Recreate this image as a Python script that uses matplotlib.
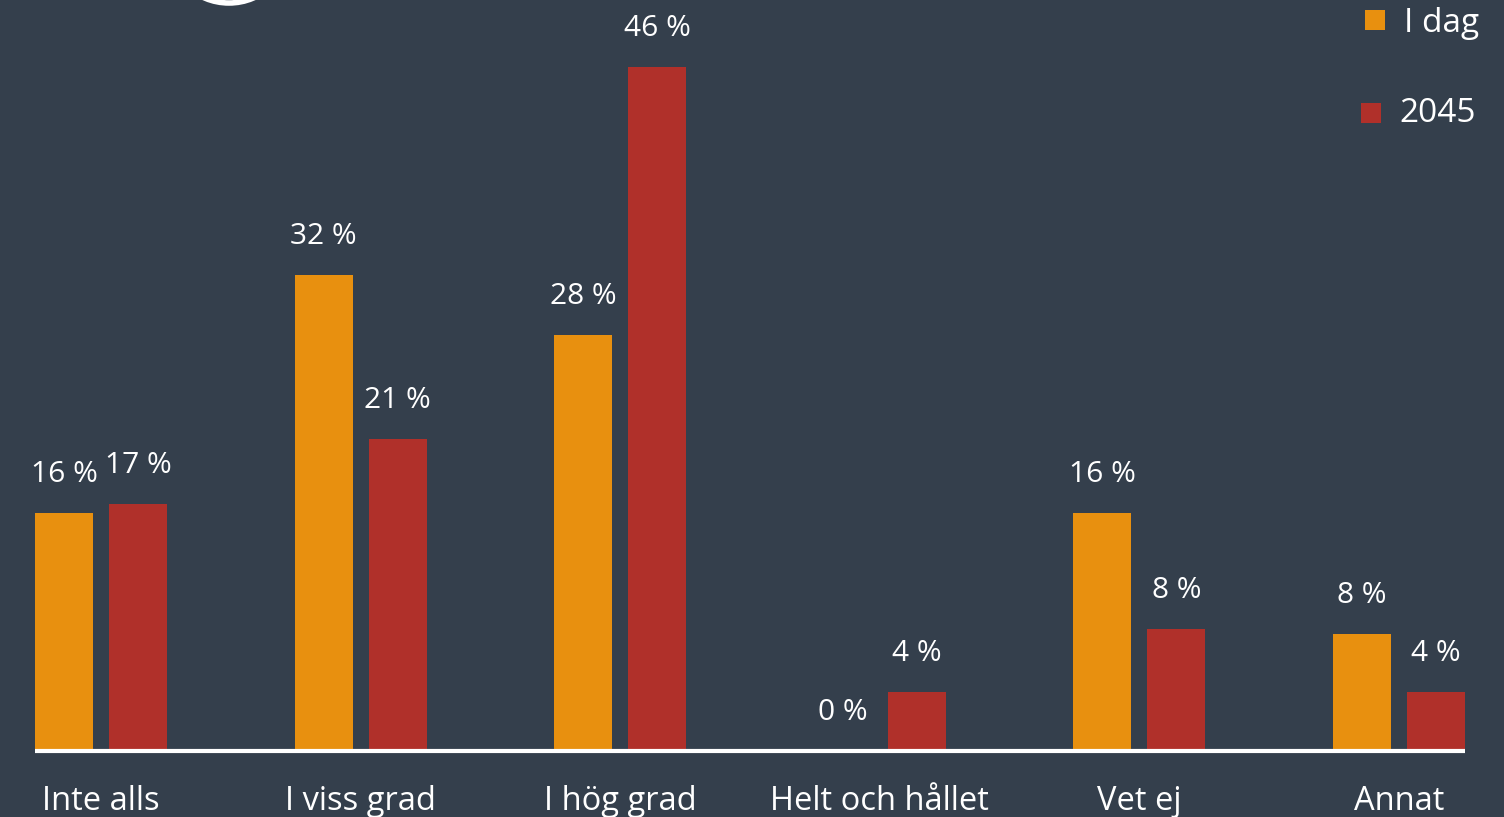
import matplotlib
matplotlib.use("Agg")
import matplotlib.pyplot as plt
from matplotlib.patches import Rectangle, Ellipse
import numpy as np

categories = ["Inte alls", "I viss grad", "I hög grad", "Helt och hållet", "Vet ej", "Annat"]
series_names = ["I dag", "2045"]
idag = [16, 32, 28, 0, 16, 7.9]
y2045 = [16.6, 21, 46, 4, 8.2, 4]

BG = "#343F4C"
ORANGE = "#E8900F"
RED = "#B0302A"
FONT = ["Open Sans", "DejaVu Sans"]

W, H = 1504, 817
fig = plt.figure(figsize=(W / 100, H / 100), dpi=100, facecolor=BG)

# axes geometry in pixels
base_px = 751           # baseline from top
px_per_pct = 14.87
group_px = 259.6
first_center = 101
ax = fig.add_axes([0, (H - base_px) / H, 1, base_px / H])
ax.set_facecolor(BG)
ax.set_xlim(-first_center / group_px, (W - first_center) / group_px)
ax.set_ylim(0, base_px / px_per_pct)
ax.axis("off")

x = np.arange(len(categories))
bw = 58 / group_px
off = 37 / group_px
ax.bar(x - off, idag, width=bw, color=ORANGE, zorder=2)
ax.bar(x + off, y2045, width=bw, color=RED, zorder=2)

lab_off = 31 / px_per_pct
for xs, vals in ((x - off, idag), (x + off, y2045)):
    for xi, v in zip(xs, vals):
        ax.text(xi, v + lab_off, f"{v:.0f} %", ha="center", va="baseline",
                color="white", fontsize=21.5, family=FONT)

ax.hlines(0, (35 - first_center) / group_px, (1465 - first_center) / group_px,
          color="white", linewidth=3, zorder=3, clip_on=False)

for xi, c in zip(x, categories):
    ax.text(xi, -(810 - base_px) / px_per_pct, c, ha="center", va="baseline",
            color="white", fontsize=23.5, family=FONT, clip_on=False)

# legend (manual)
def fx(px):
    return px / W

def fy(px):
    return 1 - px / H

leg = [(series_names[0], ORANGE, 1365, 10, 1404, 32),
       (series_names[1], RED, 1361, 103, 1399, 122)]
for name, col, sx, sy, tx, ty in leg:
    fig.patches.append(Rectangle((fx(sx), fy(sy + 20)), 20 / W, 20 / H,
                                 transform=fig.transFigure, facecolor=col,
                                 edgecolor="none"))
    fig.text(fx(tx), fy(ty), name, ha="left", va="baseline", color="white",
             fontsize=24, family=FONT)

# partial white ring at top (cut off)
fig.patches.append(Ellipse((fx(229), fy(-59)), 124 / W, 124 / H,
                           transform=fig.transFigure, facecolor="none",
                           edgecolor="white", linewidth=4))

fig.savefig("out.png", dpi=100, facecolor=BG)
